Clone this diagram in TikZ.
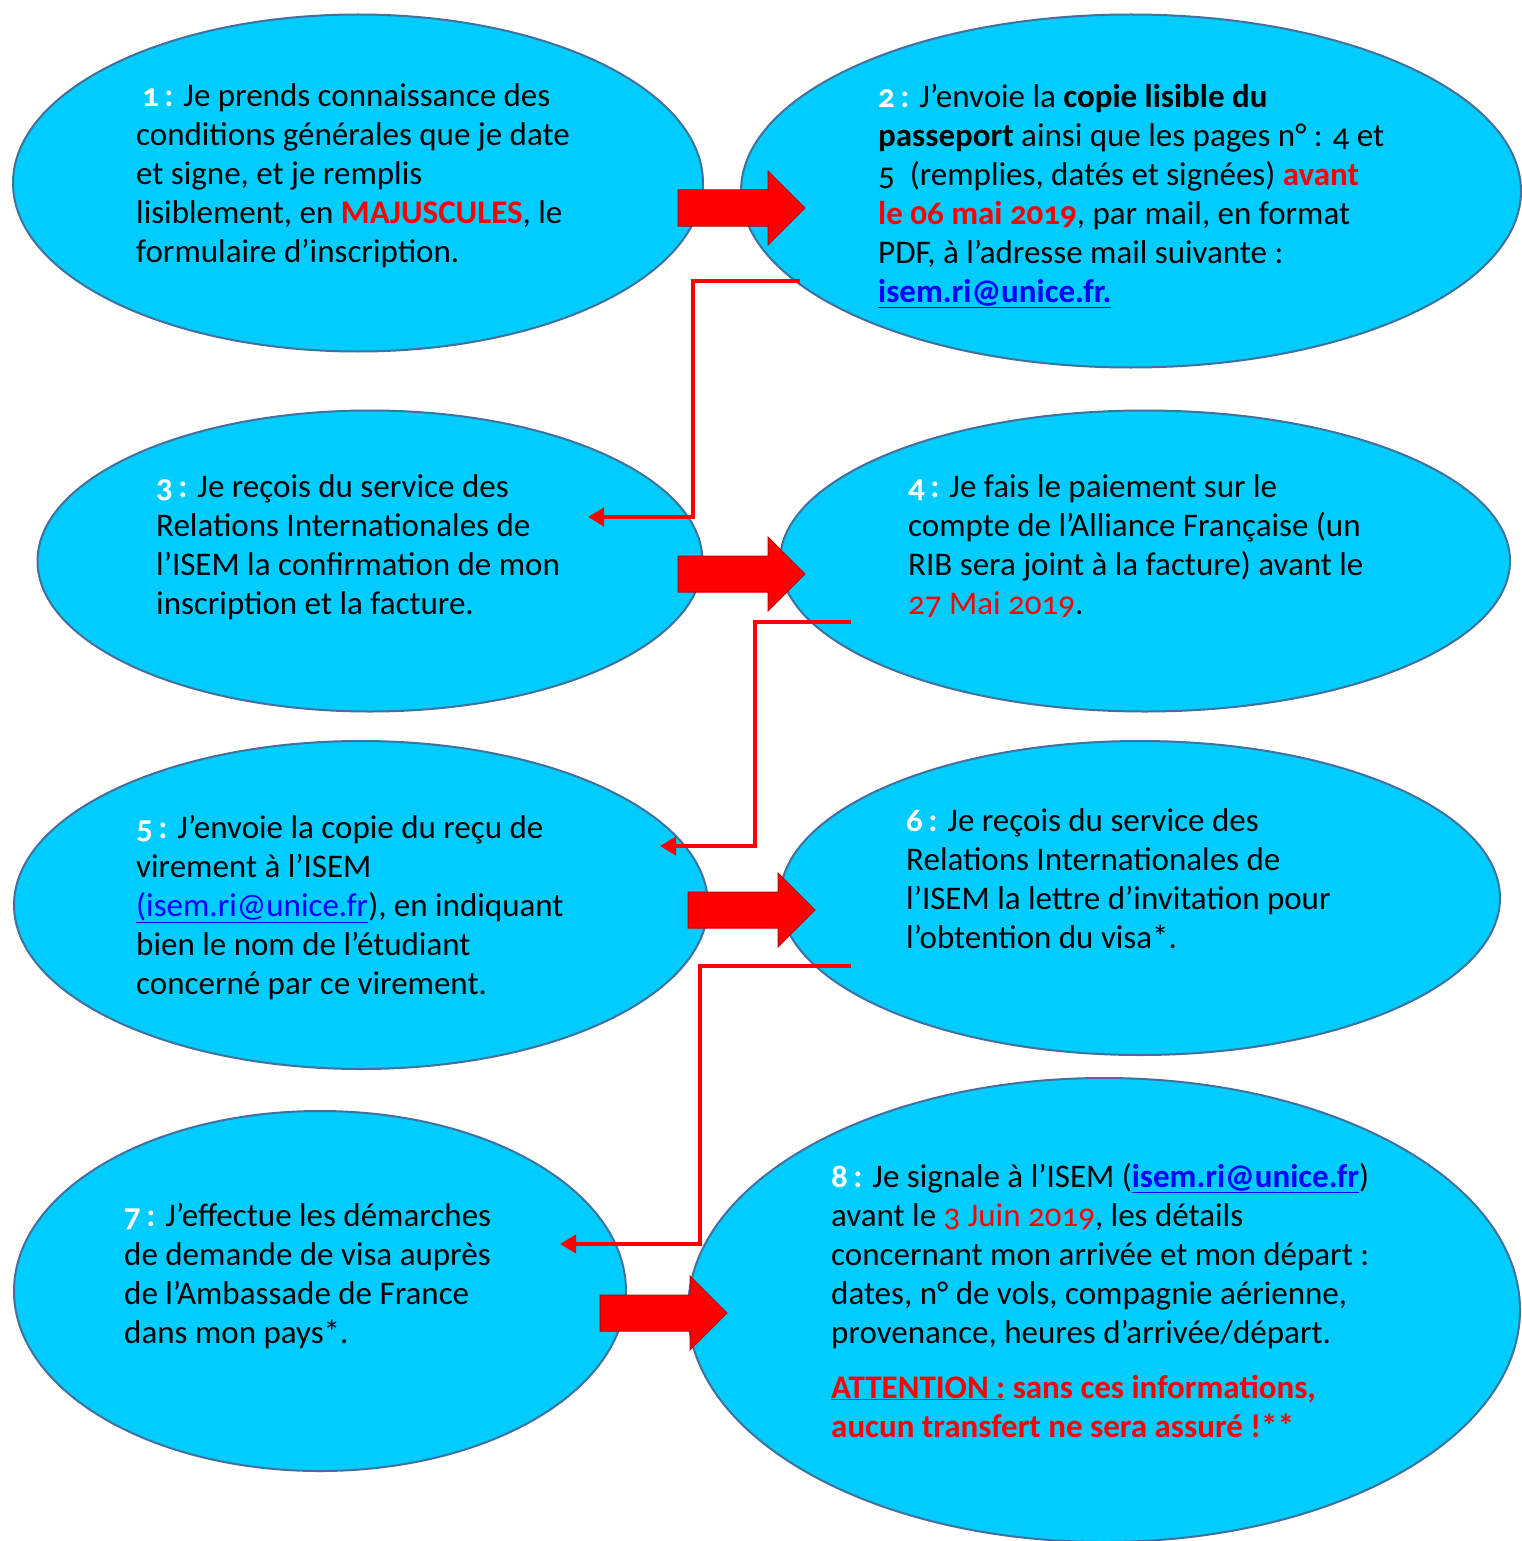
\documentclass[tikz,border=0pt]{standalone}
\usepackage{fontspec}
\setmainfont{Carlito}[Numbers=OldStyle]
\usetikzlibrary{shapes.geometric,arrows.meta}
\definecolor{bubblefill}{HTML}{00CCFF}
\definecolor{bubbleedge}{HTML}{41719C}
\definecolor{alertred}{HTML}{FF0000}
\definecolor{arrowedge}{HTML}{C00000}
\definecolor{linkblue}{HTML}{0000FF}
\newcommand\stepno[1]{\textcolor{white}{\bfseries #1\,:}}
\newcommand\maillink[1]{\textcolor{linkblue}{\underline{#1}}}
\newcommand\alert[1]{\textcolor{alertred}{#1}}
\newcommand\blockarr[2]{%
  \path[blockarrow] (#1,#2-18) -- ++(90,0) -- ++(0,-19) -- ++(37,37)
    -- ++(-37,37) -- ++(0,-19) -- ++(-90,0) -- cycle;}
\begin{document}
\begin{tikzpicture}[x=1pt,y=-1pt,
  bubble/.style={ellipse, draw=bubbleedge, line width=2pt, fill=bubblefill, inner sep=0pt},
  steptext/.style={anchor=base west, align=left, inner sep=0pt,
    font=\fontsize{33}{39}\selectfont},
  elbow/.style={draw=alertred, line width=4pt, -{Triangle[length=16pt,width=18pt]}},
  blockarrow/.style={fill=alertred, draw=arrowedge, line width=1pt}]
\useasboundingbox (0,0) rectangle (1521,1541);
\fill[white] (0,0) rectangle (1521,1541);

% bubbles
\node[bubble, minimum width=690pt, minimum height=337pt] (e1) at (358,183) {};
\node[bubble, minimum width=780pt, minimum height=353pt] (e2) at (1131,191) {};
\node[bubble, minimum width=665pt, minimum height=301pt] (e3) at (370,561) {};
\node[bubble, minimum width=730pt, minimum height=301pt] (e4) at (1145,561) {};
\node[bubble, minimum width=694pt, minimum height=328pt] (e5) at (361,905) {};
\node[bubble, minimum width=720pt, minimum height=314pt] (e6) at (1140,898) {};
\node[bubble, minimum width=612pt, minimum height=360pt] (e7) at (320,1291) {};
\node[bubble, minimum width=832pt, minimum height=464pt] (e8) at (1104,1310) {};

% block arrows
\blockarr{678}{208}
\blockarr{678}{574}
\blockarr{688}{910}
\blockarr{600}{1313}

% elbow connectors
\coordinate (c1a) at (800,281);
\coordinate (c1b) at (588,517);
\draw[elbow] (c1a) -- ++(-107,0) |- (c1b);
\coordinate (c2a) at (851,622);
\coordinate (c2b) at (660,846);
\draw[elbow] (c2a) -- ++(-96,0) |- (c2b);
\coordinate (c3a) at (851,966);
\coordinate (c3b) at (560,1244);
\draw[elbow] (c3a) -- ++(-151,0) |- (c3b);

% texts (anchored at the baseline of the last line)
\node[steptext] (t1) at (136,262) {\hspace{6pt}\stepno{1} Je prends connaissance des\\
conditions générales que je date\\
et signe, et je remplis\\
lisiblement, en \alert{\bfseries MAJUSCULES}, le\\
formulaire d’inscription.};

\node[steptext] (t2) at (878,302) {\stepno{2} J’envoie la \textbf{copie lisible du}\\
\textbf{passeport} ainsi que les pages n° : 4 et\\
5 \ (remplies, datés et signées) \alert{\bfseries avant}\\
\alert{\bfseries le 06 mai 2019}, par mail, en format\\
PDF, à l’adresse mail suivante :\\
\maillink{\bfseries isem.ri@unice.fr.}};

\node[steptext] (t3) at (156,614) {\stepno{3} Je reçois du service des\\
Relations Internationales de\\
l’ISEM la confirmation de mon\\
inscription et la facture.};

\node[steptext] (t4) at (908,614) {\stepno{4} Je fais le paiement sur le\\
compte de l’Alliance Française (un\\
RIB sera joint à la facture) avant le\\
\alert{27 Mai 2019}.};

\node[steptext] (t5) at (136,994) {\stepno{5} J’envoie la copie du reçu de\\
virement à l’ISEM\\
\maillink{(isem.ri@unice.fr}), en indiquant\\
bien le nom de l’étudiant\\
concerné par ce virement.};

\node[steptext] (t6) at (906,948) {\stepno{6} Je reçois du service des\\
Relations Internationales de\\
l’ISEM la lettre d’invitation pour\\
l’obtention du visa*.};

\node[steptext] (t7) at (124,1343) {\stepno{7} J’effectue les démarches\\
de demande de visa auprès\\
de l’Ambassade de France\\
dans mon pays*.};

\node[steptext] (t8) at (831,1437) {\stepno{8} Je signale à l’ISEM (\maillink{\bfseries isem.ri@unice.fr})\\
avant le \alert{3 Juin 2019}, les détails\\
concernant mon arrivée et mon départ :\\
dates, n° de vols, compagnie aérienne,\\
provenance, heures d’arrivée/départ.\\[16pt]
\alert{\bfseries\underline{ATTENTION :} sans ces informations,}\\
\alert{\bfseries aucun transfert ne sera assuré !**}};
\end{tikzpicture}
\end{document}
